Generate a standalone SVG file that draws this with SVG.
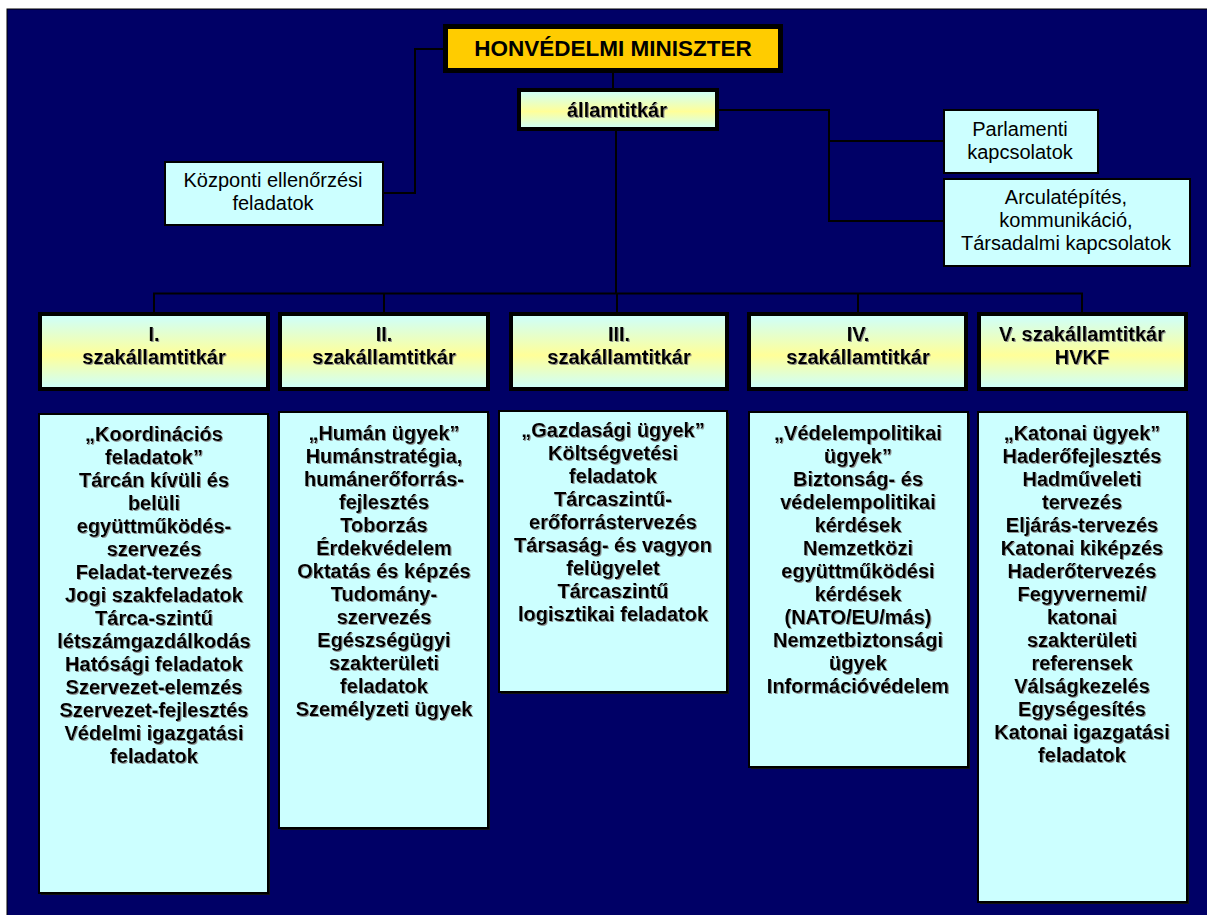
<svg xmlns="http://www.w3.org/2000/svg" width="1207" height="915" viewBox="0 0 1207 915">
<defs>
<linearGradient id="hg" x1="0" y1="0" x2="0" y2="1">
<stop offset="0" stop-color="#CCFFFF"/>
<stop offset="0.55" stop-color="#FFFF99"/>
<stop offset="1" stop-color="#CCFFFF"/>
</linearGradient>
<filter id="ts" x="-5%" y="-5%" width="110%" height="110%">
<feDropShadow dx="1" dy="1" stdDeviation="0.4" flood-color="#888888" flood-opacity="0.9"/>
</filter>
</defs>
<style>
text{font-family:"Liberation Sans",Arial,sans-serif;fill:#000;text-anchor:middle}
.b{font-weight:bold;font-size:20px;filter:url(#ts)}
.r{font-size:20px}
.box{fill:#CCFFFF;stroke:#000;stroke-width:2}
.hdr{fill:url(#hg);stroke:#000;stroke-width:4}
.sh{fill:#111}
.ln{fill:none;stroke:#000;stroke-width:2}
</style>
<rect x="7" y="9" width="1205" height="910" fill="#000066" stroke="#000" stroke-width="1"/>
<g id="connectors">
<polyline class="ln" points="443,49 415,49 415,193 383,193"/>
<line class="ln" x1="613" y1="73" x2="613" y2="88"/>
<polyline class="ln" points="719,110 829,110 829,221 943,221"/>
<line class="ln" x1="829" y1="141" x2="943" y2="141"/>
<line class="ln" x1="616" y1="131" x2="616" y2="294"/>
<polyline class="ln" points="154,312 154,293.5 1082,293.5 1082,312"/>
<line class="ln" x1="384" y1="293.5" x2="384" y2="312"/>
<line class="ln" x1="617" y1="293.5" x2="617" y2="312"/>
<line class="ln" x1="858" y1="293.5" x2="858" y2="312"/>
</g>
<g id="miniszter">
<rect x="445.5" y="26.5" width="335" height="44" fill="#FFCC00" stroke="#000" stroke-width="5"/>
<text x="613" y="56" style="font-weight:bold;font-size:22.5px">HONVÉDELMI MINISZTER</text>
</g>
<g id="allamtitkar">
<rect class="hdr" x="519" y="90" width="198" height="39"/>
<text class="b" x="617" y="117">államtitkár</text>
</g>
<g id="kozponti">
<rect class="box" x="165" y="162" width="218" height="63"/>
<text class="r" x="273" y="187">Központi ellenőrzési</text>
<text class="r" x="273" y="210">feladatok</text>
</g>
<g id="parlamenti">
<rect class="box" x="944" y="110" width="154" height="63"/>
<text class="r" x="1020" y="136">Parlamenti</text>
<text class="r" x="1020" y="159">kapcsolatok</text>
</g>
<g id="arculat">
<rect class="box" x="944" y="179" width="246" height="87"/>
<text class="r" x="1066" y="204">Arculatépítés,</text>
<text class="r" x="1066" y="227">kommunikáció,</text>
<text class="r" x="1066" y="250">Társadalmi kapcsolatok</text>
</g>
<g id="h1">
<rect class="hdr" x="40" y="314" width="228" height="75"/>
<text class="b" x="154" y="341">I.</text>
<text class="b" x="154" y="364">szakállamtitkár</text>
</g>
<g id="h2">
<rect class="hdr" x="280" y="314" width="208" height="75"/>
<text class="b" x="384" y="341">II.</text>
<text class="b" x="384" y="364">szakállamtitkár</text>
</g>
<g id="h3">
<rect class="hdr" x="511" y="314" width="216" height="75"/>
<text class="b" x="619" y="341">III.</text>
<text class="b" x="619" y="364">szakállamtitkár</text>
</g>
<g id="h4">
<rect class="hdr" x="749" y="314" width="217" height="75"/>
<text class="b" x="858" y="341">IV.</text>
<text class="b" x="858" y="364">szakállamtitkár</text>
</g>
<g id="h5">
<rect class="hdr" x="979" y="314" width="207" height="75"/>
<text class="b" x="1082" y="341">V. szakállamtitkár</text>
<text class="b" x="1082" y="364">HVKF</text>
</g>
<g id="c1">
<rect class="sh" x="41" y="416" width="229" height="479"/>
<rect class="box" x="39" y="414" width="229" height="479"/>
<text class="b" x="154" y="441"><tspan x="154">„Koordinációs</tspan><tspan x="154" dy="23">feladatok”</tspan><tspan x="154" dy="23">Tárcán kívüli és</tspan><tspan x="154" dy="23">belüli</tspan><tspan x="154" dy="23">együttműködés-</tspan><tspan x="154" dy="23">szervezés</tspan><tspan x="154" dy="23">Feladat-tervezés</tspan><tspan x="154" dy="23">Jogi szakfeladatok</tspan><tspan x="154" dy="23">Tárca-szintű</tspan><tspan x="154" dy="23">létszámgazdálkodás</tspan><tspan x="154" dy="23">Hatósági feladatok</tspan><tspan x="154" dy="23">Szervezet-elemzés</tspan><tspan x="154" dy="23">Szervezet-fejlesztés</tspan><tspan x="154" dy="23">Védelmi igazgatási</tspan><tspan x="154" dy="23">feladatok</tspan></text>
</g>
<g id="c2">
<rect class="sh" x="281" y="414" width="209" height="416"/>
<rect class="box" x="279" y="412" width="209" height="416"/>
<text class="b" x="384" y="440"><tspan x="384">„Humán ügyek”</tspan><tspan x="384" dy="23">Humánstratégia,</tspan><tspan x="384" dy="23">humánerőforrás-</tspan><tspan x="384" dy="23">fejlesztés</tspan><tspan x="384" dy="23">Toborzás</tspan><tspan x="384" dy="23">Érdekvédelem</tspan><tspan x="384" dy="23">Oktatás és képzés</tspan><tspan x="384" dy="23">Tudomány-</tspan><tspan x="384" dy="23">szervezés</tspan><tspan x="384" dy="23">Egészségügyi</tspan><tspan x="384" dy="23">szakterületi</tspan><tspan x="384" dy="23">feladatok</tspan><tspan x="384" dy="23">Személyzeti ügyek</tspan></text>
</g>
<g id="c3">
<rect class="sh" x="501" y="413" width="228" height="281"/>
<rect class="box" x="499" y="411" width="228" height="281"/>
<text class="b" x="613" y="437"><tspan x="613">„Gazdasági ügyek”</tspan><tspan x="613" dy="23">Költségvetési</tspan><tspan x="613" dy="23">feladatok</tspan><tspan x="613" dy="23">Tárcaszintű-</tspan><tspan x="613" dy="23">erőforrástervezés</tspan><tspan x="613" dy="23">Társaság- és vagyon</tspan><tspan x="613" dy="23">felügyelet</tspan><tspan x="613" dy="23">Tárcaszintű</tspan><tspan x="613" dy="23">logisztikai feladatok</tspan></text>
</g>
<g id="c4">
<rect class="sh" x="751" y="414" width="219" height="355"/>
<rect class="box" x="749" y="412" width="219" height="355"/>
<text class="b" x="858" y="440"><tspan x="858">„Védelempolitikai</tspan><tspan x="858" dy="23">ügyek”</tspan><tspan x="858" dy="23">Biztonság- és</tspan><tspan x="858" dy="23">védelempolitikai</tspan><tspan x="858" dy="23">kérdések</tspan><tspan x="858" dy="23">Nemzetközi</tspan><tspan x="858" dy="23">együttműködési</tspan><tspan x="858" dy="23">kérdések</tspan><tspan x="858" dy="23">(NATO/EU/más)</tspan><tspan x="858" dy="23">Nemzetbiztonsági</tspan><tspan x="858" dy="23">ügyek</tspan><tspan x="858" dy="23">Információvédelem</tspan></text>
</g>
<g id="c5">
<rect class="sh" x="980" y="414" width="209" height="490"/>
<rect class="box" x="978" y="412" width="209" height="490"/>
<text class="b" x="1082" y="440"><tspan x="1082">„Katonai ügyek”</tspan><tspan x="1082" dy="23">Haderőfejlesztés</tspan><tspan x="1082" dy="23">Hadműveleti</tspan><tspan x="1082" dy="23">tervezés</tspan><tspan x="1082" dy="23">Eljárás-tervezés</tspan><tspan x="1082" dy="23">Katonai kiképzés</tspan><tspan x="1082" dy="23">Haderőtervezés</tspan><tspan x="1082" dy="23">Fegyvernemi/</tspan><tspan x="1082" dy="23">katonai</tspan><tspan x="1082" dy="23">szakterületi</tspan><tspan x="1082" dy="23">referensek</tspan><tspan x="1082" dy="23">Válságkezelés</tspan><tspan x="1082" dy="23">Egységesítés</tspan><tspan x="1082" dy="23">Katonai igazgatási</tspan><tspan x="1082" dy="23">feladatok</tspan></text>
</g>
</svg>
